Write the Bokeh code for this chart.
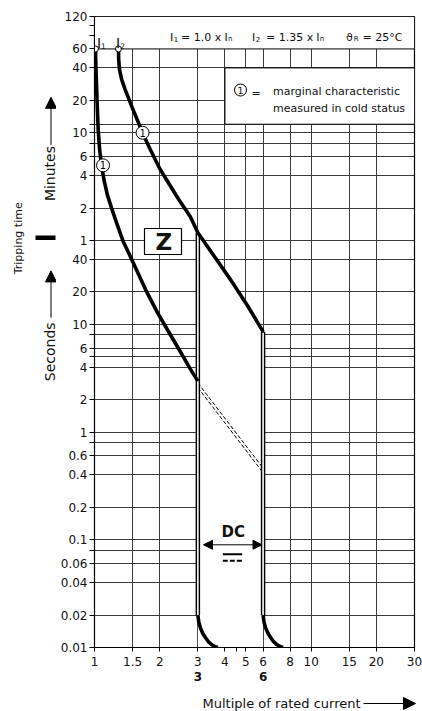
import math
from bokeh.plotting import figure
from bokeh.layouts import row, column
from bokeh.models import (FixedTicker, LogAxis, Label, Arrow, NormalHead, Range1d,
                          CustomJSTickFormatter)
from bokeh.embed import file_html
from bokeh.resources import INLINE
from bokeh.core.properties import value

# ---------------- data ----------------
x_ticks = [1, 1.5, 2, 3, 4, 4.5, 5, 6, 8, 10, 15, 20, 30]
x_tick_labels = ["1", "1.5", "2", "3", "4", "", "5", "6", "8", "10", "15", "20", "30"]
x_grid = [1.5, 2, 3, 4, 5, 6, 8, 10, 15, 20]
x_bold_ticks = [3, 6]
x_bold_labels = ["3", "6"]

# tripping time in seconds (upper part of the axis is labelled in minutes)
y_ticks = [0.01, 0.02, 0.04, 0.06, 0.08, 0.1, 0.2, 0.4, 0.6, 0.8, 1, 2, 4, 5, 6, 8,
           10, 20, 40, 60, 120, 240, 360, 480, 600, 720, 1200, 2400, 3600, 4800, 6000, 7200]
y_tick_labels = ["0.01", "0.02", "0.04", "0.06", "", "0.1", "0.2", "0.4", "0.6", "", "1",
                 "2", "4", "", "6", "", "10", "20", "40", "1", "2", "4", "6", "", "10", "",
                 "20", "40", "60", "", "", "120"]
y_grid = [0.02, 0.04, 0.06, 0.08, 0.1, 0.2, 0.4, 0.6, 0.8, 1, 2, 4, 5, 6, 8, 10, 20, 40,
          60, 120, 240, 360, 480, 600, 720, 1200, 2400, 3600]

# lower limit curve (I1)
left_x = [1.01, 1.016, 1.027, 1.04, 1.056, 1.076, 1.105, 1.146, 1.201, 1.273, 1.351,
          1.489, 1.725, 1.958, 2.175, 2.449, 2.758, 3.0]
left_t = [3600, 2329, 1225, 643, 419, 304, 221, 160, 118.6, 84.1, 60.0,
          39.6, 20.8, 12.7, 8.86, 5.9, 3.9, 2.97]

# upper limit curve (I2)
right_x = [1.29, 1.293, 1.304, 1.334, 1.384, 1.443, 1.505, 1.586, 1.672, 1.809, 2.01,
           2.147, 2.449, 2.766, 3.0, 3.584, 4.283, 5.096, 6.0]
right_t = [3600, 2884, 2329, 1880, 1517, 1225, 989, 765, 592, 420, 274,
           221, 144, 100, 70.8, 42.3, 25.3, 14.8, 8.54]

# DC extension (dashed)
dash_x = [3.0, 6.0]
dash_t = [2.72, 0.44]

# instantaneous release feet
foot3_x = [3.0, 3.03, 3.08, 3.16, 3.25, 3.37, 3.48, 3.59, 3.71]
foot6_x = [6.0, 6.06, 6.16, 6.33, 6.5, 6.74, 6.97, 7.19, 7.42]
foot_t = [0.02, 0.0172, 0.0153, 0.0135, 0.0124, 0.0112, 0.0106, 0.0102, 0.01]

start_x = [1.01, 1.29]
start_t = [3600, 3600]
cold_x = [1.095, 1.667]
cold_t = [299, 600]

# ---------------- layout helpers (page pixel -> data) ----------------
W, H = 422, 711
LEFT_W = 56
FL, FR, FT, FB = 94, 414, 16, 647
MAIN_H = 687
XMIN, XMAX, YMIN, YMAX = 1, 30, 0.01, 7200
FONT = "DejaVu Sans"


def dx(px):
    return 10 ** (math.log10(XMIN) + (px - FL) / (FR - FL) * (math.log10(XMAX) - math.log10(XMIN)))


def dy(py):
    return 10 ** (math.log10(YMIN) + (FB - py) / (FB - FT) * (math.log10(YMAX) - math.log10(YMIN)))


def fmt(tv, tl):
    return CustomJSTickFormatter(args=dict(tv=tv, tl=tl), code="""
        for (let i = 0; i < tv.length; i++) {
            if (Math.abs(tv[i] / tick - 1) < 1e-6) { return tl[i]; }
        }
        return "";
    """)


p = figure(x_axis_type="log", y_axis_type="log",
           x_range=Range1d(XMIN, XMAX), y_range=Range1d(YMIN, YMAX),
           frame_width=FR - FL, frame_height=FB - FT,
           min_border_left=FL - LEFT_W, min_border_right=W - FR, min_border_top=FT,
           min_border_bottom=MAIN_H - FB,
           output_backend="svg", toolbar_location=None,
           background_fill_color="white", border_fill_color="white")
p.outline_line_color = "black"
p.outline_line_width = 1.2

xa = p.xaxis[0]
xa.ticker = FixedTicker(ticks=x_ticks)
xa.formatter = fmt(x_ticks, x_tick_labels)
xa.major_tick_out = 4
xa.major_tick_in = 0
xa.minor_tick_line_color = None
xa.major_label_standoff = 5
xa.major_label_text_font = FONT
xa.major_label_text_font_size = "12px"
xa.major_label_text_color = "#111111"
xa.axis_line_color = "black"

xa2 = LogAxis(ticker=FixedTicker(ticks=x_bold_ticks), formatter=fmt(x_bold_ticks, x_bold_labels),
              major_tick_line_color=None, minor_tick_line_color=None, axis_line_color=None,
              major_label_text_font=FONT, major_label_text_font_style="bold",
              major_label_text_font_size="12px", major_label_standoff=-3,
              major_label_text_color="#111111")
p.add_layout(xa2, "below")

ya = p.yaxis[0]
ya.ticker = FixedTicker(ticks=y_ticks)
ya.formatter = fmt(y_ticks, y_tick_labels)
ya.major_tick_out = 5
ya.major_tick_in = 0
ya.minor_tick_line_color = None
ya.major_label_standoff = 2
ya.major_label_text_font = FONT
ya.major_label_text_font_size = "12px"
ya.major_label_text_color = "#111111"
ya.axis_line_color = "black"

p.xgrid.ticker = FixedTicker(ticks=x_grid)
p.ygrid.ticker = FixedTicker(ticks=y_grid)
for g in (p.xgrid[0], p.ygrid[0]):
    g.grid_line_color = "#3a3a3a"
    g.grid_line_width = 1
    g.grid_line_alpha = 1

# ---------------- white areas ----------------
p.quad(left=[XMIN], right=[XMAX], bottom=[3600], top=[YMAX], fill_color="white",
       line_color="black", line_width=1)
p.quad(left=[4], right=[XMAX], bottom=[720], top=[2400], fill_color="white",
       line_color="black", line_width=1)

seg = [(x, t) for x, t in zip(right_x, right_t) if x >= 3]
band_xs = [x for x, _ in seg] + [seg[-1][0], seg[0][0]]
band_ys = [t for _, t in seg] + [YMIN, YMIN]
p.patch(band_xs, band_ys, fill_color="white", line_color=None)

p.quad(left=[dx(144)], right=[dx(181)], bottom=[dy(254)], top=[dy(228)],
       fill_color="white", line_color="black", line_width=1.2)

# ---------------- curves ----------------
f = 1.05
p.line(dash_x, [t * f for t in dash_t], line_color="black", line_width=1, line_dash="4 2")
p.line(dash_x, [t / f for t in dash_t], line_color="black", line_width=1, line_dash="4 2")

for x0, ttop in (seg[0], seg[-1]):
    p.line([x0, x0], [ttop, foot_t[0]], line_color="black", line_width=4.5)
    p.line([x0, x0], [ttop / 1.02, foot_t[0]], line_color="white", line_width=1.6)

p.line(left_x, left_t, line_color="black", line_width=3.6, line_join="round")
p.line(right_x, right_t, line_color="black", line_width=3.6, line_join="round")
p.line(foot3_x, foot_t, line_color="black", line_width=3.6, line_join="round")
p.line(foot6_x, foot_t, line_color="black", line_width=3.6, line_join="round")

p.scatter(start_x, start_t, size=6, marker="circle", fill_color="white",
          line_color="black", line_width=1)
p.scatter(cold_x, cold_t, size=13, marker="circle", fill_color="white",
          line_color="black", line_width=1)
p.text(cold_x, cold_t, text=["1", "1"], text_font=value(FONT), text_font_size="10px",
       text_align="center", text_baseline="middle", text_color="black")

p.scatter([dx(240)], [dy(89.5)], size=12, marker="circle", fill_color="white",
          line_color="black", line_width=1)


# ---------------- texts ----------------
def lab(fig, x, y, text, size, bold=False, align="left", baseline="alphabetic", angle=0.0):
    fig.add_layout(Label(x=x, y=y, text=text, text_font=FONT,
                         text_font_size=f"{size}px",
                         text_font_style="bold" if bold else "normal",
                         text_align=align, text_baseline=baseline, angle=angle,
                         text_color="#111111"))


def mlab(px, py, text, size, **kw):
    lab(p, dx(px), dy(py), text, size, **kw)


mlab(240, 89.5, "1", 9.5, align="center", baseline="middle")
mlab(251, 93, "=", 11)
mlab(272.5, 91, "marginal characteristic", 11)
mlab(272.5, 108, "measured in cold status", 11)

mlab(169.5, 36.5, "I", 11); mlab(173.3, 38.5, "1", 7)
mlab(180.5, 36.5, "= 1.0 x", 11)
mlab(224, 36.5, "I", 11); mlab(227.5, 38.5, "n", 7)
mlab(251.5, 36.5, "I", 11); mlab(255.3, 38.5, "2", 7)
mlab(265.5, 36.5, "= 1.35 x", 11)
mlab(315.8, 36.5, "I", 11); mlab(319.3, 38.5, "n", 7)
mlab(345.5, 36.5, "\u03d1", 11); mlab(353.2, 38.5, "R", 7)
mlab(362, 36.5, "= 25\u00b0C", 11)

mlab(96.5, 42.7, "I", 14); mlab(100.6, 45.2, "1", 7.5)
mlab(115.6, 42.7, "I", 14); mlab(119.7, 45.2, "2", 7.5)

mlab(163.3, 241.5, "Z", 23, bold=True, align="center", baseline="middle")
mlab(232.8, 531.7, "DC", 15, bold=True, align="center", baseline="middle")


def head(s):
    return NormalHead(size=s, fill_color="black", line_color="black", line_width=1)


def arrow(fig, x0, y0, x1, y1, end=None, start=None, width=1.0, dash="solid"):
    fig.add_layout(Arrow(x_start=x0, y_start=y0, x_end=x1, y_end=y1,
                         end=end, start=start, line_color="black", line_width=width,
                         line_dash=dash))


arrow(p, dx(203), dy(544.3), dx(261.5), dy(544.3), end=head(9), start=head(9))
arrow(p, dx(222.3), dy(553.7), dx(241.7), dy(553.7), width=2)
arrow(p, dx(222.3), dy(560.3), dx(241.7), dy(560.3), width=2, dash="5 2")


# ---------------- side strips (page-pixel coordinates) ----------------
def strip(w, h, top):
    fig = figure(width=w, height=h, x_range=Range1d(0, w), y_range=Range1d(top + h, top),
                 min_border=0, x_axis_location=None, y_axis_location=None,
                 output_backend="svg", toolbar_location=None,
                 background_fill_color="white", border_fill_color="white")
    fig.outline_line_color = None
    fig.grid.visible = False
    return fig


left = strip(LEFT_W, MAIN_H, 0)
lab(left, 17.5, 241.5, "Tripping time", 11, align="center", baseline="middle", angle=math.pi / 2)
lab(left, 49, 171, "Minutes", 14, align="center", baseline="middle", angle=math.pi / 2)
lab(left, 49, 365, "Seconds", 14, align="center", baseline="middle", angle=math.pi / 2)
arrow(left, 50.5, 140, 50.5, 88, end=head(11))
arrow(left, 50.5, 328, 50.5, 277, end=head(11))
arrow(left, 35, 241, 55, 241, width=4.5)

bottom = strip(W, H - MAIN_H, MAIN_H)
lab(bottom, 202, 703, "Multiple of rated current", 13, baseline="middle")
arrow(bottom, 363, 703, 415, 703, end=head(12))

layout = column(row(left, p), bottom)
open("out.html", "w").write(file_html(layout, INLINE))
